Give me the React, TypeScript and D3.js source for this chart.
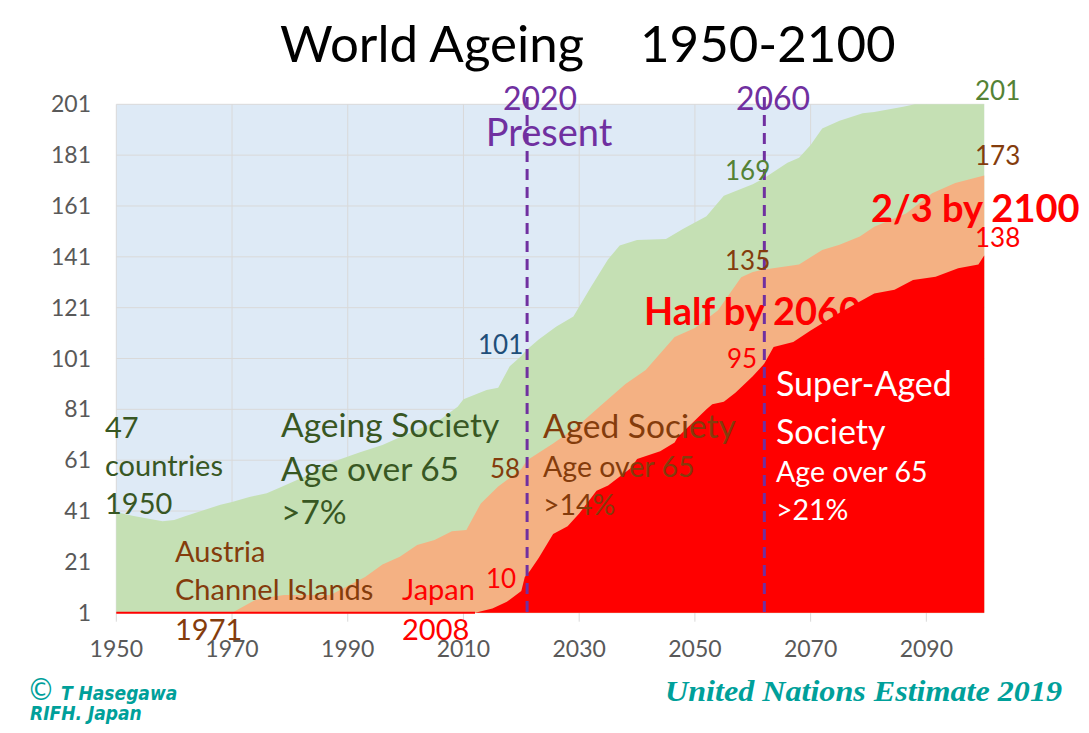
import React from "react";
import * as d3 from "d3";

// ---- Data ----
// number of countries whose share of population aged 65+ exceeds 7% (Ageing Society)
const ageingSociety: [number, number][] = [
  [1950, 40.5], [1953, 39], [1958, 37], [1960, 37.5], [1962, 39], [1966, 42], [1968, 43.5],
  [1970, 44.5], [1973, 46.5], [1976, 48], [1978, 50], [1983, 55], [1987, 60], [1992, 64],
  [1996, 67], [1999, 70], [2002, 73], [2006, 77], [2009, 82], [2010, 85], [2014, 88.6],
  [2016, 89.5], [2018, 98], [2020, 102], [2021, 104.5], [2023, 108.5], [2026, 113.5],
  [2029, 117.5], [2032, 129], [2035, 140], [2037, 145.5], [2040, 147.6], [2045, 148],
  [2048, 152], [2052, 157], [2055, 165], [2060, 169.5], [2062, 172], [2066, 178],
  [2068, 180], [2070, 185], [2072, 191.5], [2075, 194.5], [2079, 197.5], [2081, 198],
  [2086, 200], [2088, 201], [2100, 201],
];
// share > 14% (Aged Society)
const agedSociety: [number, number][] = [
  [1970, 1], [1974, 6], [1977, 7.3], [1979, 8], [1987, 8], [1993, 15], [1996, 20],
  [1999, 23], [2002, 27.6], [2005, 29.6], [2008, 33], [2010.5, 33.5], [2013, 44],
  [2016, 50.6], [2020, 57.5], [2021, 61], [2025.5, 67.6], [2029.5, 74], [2033.5, 82],
  [2038, 91], [2041.5, 96.5], [2044, 103], [2046.5, 109.5], [2050, 113], [2054, 120],
  [2058, 133], [2060, 135], [2062, 136], [2068, 138], [2072, 143.7], [2075, 145.7],
  [2078.5, 149], [2081, 152.8], [2086.5, 158], [2091, 166], [2095, 170], [2100, 173],
];
// share > 21% (Super-Aged Society)
const superAgedSociety: [number, number][] = [
  [1950, 1], [2012, 1], [2015, 2.7], [2017.5, 5.3], [2020, 9.5], [2020.6, 15], [2021.5, 17.5],
  [2023, 22.5], [2025.5, 32], [2028, 35], [2030, 40], [2033, 49], [2035, 51], [2039, 58],
  [2040, 61.5], [2044, 64.5], [2046.5, 68], [2047, 70], [2052, 81], [2053, 83], [2055, 84],
  [2057, 87.5], [2060, 94], [2062, 99], [2063.6, 105.5], [2067, 107.5], [2070, 112],
  [2075, 119], [2081, 126.6], [2084.5, 128], [2087.7, 131.9], [2091.6, 133.2],
  [2095.5, 136.5], [2099, 138], [2100, 141.5],
];
const redBaselineEnd = 2012;
const xTicks = [1950, 1970, 1990, 2010, 2030, 2050, 2070, 2090];
const yTicks = [1, 21, 41, 61, 81, 101, 121, 141, 161, 181, 201];
const markerYears = [2021, 2062];

const W = 1089;
const H = 733;
const LEFT = 116.3, RIGHT = 984.2, TOP = 104.3, BOTTOM = 612.7;

const FONT = "Lato, 'Open Sans', sans-serif";
const C_GREEN = "#c5e0b4", C_ORANGE = "#f4b183", C_RED = "#ff0000", C_BG = "#deeaf6";
const PURPLE = "#7030a0", DKGREEN = "#385723", BROWN = "#843c0c", TEAL = "#00a09a";

export default function App() {
  const x = d3.scaleLinear().domain([1950, 2100]).range([LEFT, RIGHT]);
  const y = d3.scaleLinear().domain([1, 201]).range([BOTTOM, TOP]);
  const area = d3
    .area<[number, number]>()
    .x((d) => x(d[0]))
    .y0(y(1))
    .y1((d) => y(d[1]));

  const t = (
    txt: string,
    px: number,
    py: number,
    size: number,
    fill: string,
    extra: any = {}
  ) => (
    <text x={px} y={py} fontSize={size} fill={fill} fontFamily={FONT} {...extra}>
      {txt}
    </text>
  );

  return (
    <svg width={W} height={H} style={{ position: "absolute", left: 0, top: 0, background: "#fff" }}>
      {/* title */}
      {t("World Ageing", 280, 62, 51, "#000")}
      {t("1950-2100", 640, 62, 51, "#000")}

      {/* plot background */}
      <rect x={LEFT} y={TOP} width={RIGHT - LEFT} height={BOTTOM - TOP} fill={C_BG} />
      {/* gridlines */}
      {yTicks.map((v) => (
        <line key={"gy" + v} x1={LEFT} x2={RIGHT} y1={y(v)} y2={y(v)} stroke="#d9d9d9" strokeWidth={1} />
      ))}
      {xTicks.map((v) => (
        <line key={"gx" + v} x1={x(v)} x2={x(v)} y1={TOP} y2={BOTTOM + 9} stroke="#d9d9d9" strokeWidth={1} />
      ))}

      {/* areas */}
      <path d={area(ageingSociety) || ""} fill={C_GREEN} />
      <path d={area(agedSociety) || ""} fill={C_ORANGE} />
      <path d={area(superAgedSociety) || ""} fill={C_RED} />
      <line x1={x(1950)} x2={x(redBaselineEnd)} y1={y(1)} y2={y(1)} stroke={C_RED} strokeWidth={2} />

      {/* axis labels */}
      {yTicks.map((v) => (
        <text key={"ly" + v} x={91} y={y(v) + 8} textAnchor="end" fontSize={23} fill="#595959" fontFamily={FONT}>
          {v}
        </text>
      ))}
      {xTicks.map((v) => (
        <text key={"lx" + v} x={x(v)} y={657} textAnchor="middle" fontSize={23} fill="#595959" fontFamily={FONT}>
          {v}
        </text>
      ))}

      {/* annotations */}
      {t("Half by 2060", 644, 325, 38, C_RED, { fontWeight: 700 })}
      {t("2/3 by 2100", 871, 222, 38, C_RED, { fontWeight: 700 })}

      {t("2020", 540, 110, 32, PURPLE, { textAnchor: "middle" })}
      {t("Present", 549, 146, 38, PURPLE, { textAnchor: "middle" })}
      {t("2060", 773, 110, 32, PURPLE, { textAnchor: "middle" })}
      {markerYears.map((yr) => (
        <line key={"m" + yr} x1={x(yr)} x2={x(yr)} y1={97} y2={BOTTOM + 1} stroke={PURPLE} strokeWidth={3} strokeDasharray="11 7" />
      ))}

      {t("201", 975, 100, 26, "#548235")}
      {t("173", 975, 165, 26, BROWN)}
      {t("138", 975, 247, 26, C_RED)}
      {t("169", 725, 180, 26, "#548235")}
      {t("135", 725, 270, 26, BROWN)}
      {t("95", 727, 368, 26, C_RED)}
      {t("101", 478, 354, 26, "#1f4e79")}
      {t("58", 490, 478, 26, BROWN)}
      {t("10", 486, 588, 26, C_RED)}

      {t("47", 105, 438, 29, DKGREEN)}
      {t("countries", 105, 476, 29, DKGREEN)}
      {t("1950", 105, 514, 29, DKGREEN)}

      {t("Ageing Society", 281, 437, 33.5, DKGREEN)}
      {t("Age over 65", 281, 481, 33.5, DKGREEN)}
      {t(">7%", 281, 524, 33.5, DKGREEN)}

      {t("Austria", 175, 562, 29, BROWN)}
      {t("Channel Islands", 175, 600, 29, BROWN)}
      {t("1971", 175, 640, 29, BROWN)}

      {t("Japan", 402, 600, 29, C_RED)}
      {t("2008", 402, 640, 29, C_RED)}

      {t("Aged Society", 543, 438, 33.5, BROWN)}
      {t("Age over 65", 543, 477, 28.5, BROWN)}
      {t(">14%", 543, 515, 28.5, BROWN)}

      {t("Super-Aged", 776, 396, 34, "#fff")}
      {t("Society", 776, 444, 34, "#fff")}
      {t("Age over 65", 776, 482, 28.5, "#fff")}
      {t(">21%", 776, 520, 28.5, "#fff")}

      {/* credits */}
      <text x={27} y={700} fill={TEAL} fontFamily="'DejaVu Sans Condensed', 'DejaVu Sans', sans-serif" fontStyle="italic" fontWeight={700}>
        <tspan fontSize={31} fontStyle="normal" fontWeight={400}>©</tspan>
        <tspan fontSize={19} dx={6}>T Hasegawa</tspan>
      </text>
      <text x={30} y={720} fontSize={19} fill={TEAL} fontFamily="'DejaVu Sans Condensed', 'DejaVu Sans', sans-serif" fontStyle="italic" fontWeight={700}>
        RIFH. Japan
      </text>
      <text x={665} y={701} fontSize={29} fill={TEAL} fontFamily="'Liberation Serif', 'DejaVu Serif', serif" fontStyle="italic" fontWeight={700} textLength={397} lengthAdjust="spacingAndGlyphs">
        United Nations Estimate 2019
      </text>
    </svg>
  );
}
